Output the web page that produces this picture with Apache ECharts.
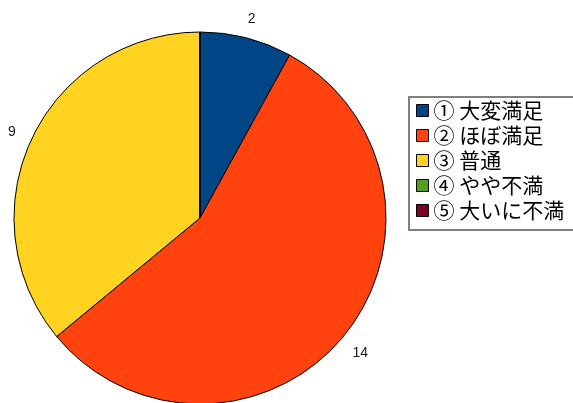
<!DOCTYPE html>
<html>
<head>
<meta charset="utf-8">
<script src="https://cdn.jsdelivr.net/npm/echarts@6/dist/echarts.min.js"></script>
<style>
  html, body { margin: 0; padding: 0; background: #ffffff; }
  #chart { width: 573px; height: 403px; }
</style>
</head>
<body>
<div id="chart"></div>
<script>
// Survey answers: satisfaction levels and number of responses
const categories = ['① 大変満足', '② ほぼ満足', '③ 普通', '④ やや不満', '⑤ 大いに不満'];
const counts = [2, 14, 9, 0, 0];
const palette = ['#004586', '#ff420e', '#ffd320', '#579d1c', '#7e0021'];

const sliceData = categories.map((name, i) => ({ name: name, value: counts[i] }));

const chart = echarts.init(document.getElementById('chart'), null, { renderer: 'canvas' });

chart.setOption({
  animation: false,
  color: palette,
  // legend frame, running off the right edge of the canvas
  graphic: [
    {
      type: 'rect',
      shape: { x: 409, y: 97, width: 200, height: 133 },
      style: { fill: 'none', stroke: '#808080', lineWidth: 2 },
      silent: true,
      z: 10
    }
  ],
  legend: {
    orient: 'vertical',
    left: 410,
    top: 98,
    padding: [2, 0, 0, 6],
    itemWidth: 12,
    itemHeight: 12,
    itemGap: 4,
    icon: 'rect',
    selectedMode: false,
    data: categories,
    itemStyle: { borderColor: '#000000', borderWidth: 1 },
    textStyle: {
      fontFamily: '"Noto Sans CJK JP", sans-serif',
      fontSize: 21,
      lineHeight: 21,
      color: '#000000'
    }
  },
  series: [
    {
      // the pie itself
      type: 'pie',
      center: [200, 218],
      radius: 186,
      startAngle: 90,
      clockwise: true,
      minAngle: 0,
      avoidLabelOverlap: false,
      silent: true,
      label: { show: false },
      labelLine: { show: false },
      itemStyle: { borderColor: '#000000', borderWidth: 1 },
      data: sliceData
    },
    {
      // transparent ring that carries the value labels just outside the pie
      type: 'pie',
      center: [200, 218],
      radius: [0, 410],
      startAngle: 90,
      clockwise: true,
      minAngle: 0,
      avoidLabelOverlap: false,
      silent: true,
      itemStyle: { color: 'rgba(0,0,0,0)', borderWidth: 0 },
      label: {
        show: true,
        position: 'inside',
        offset: [0, 3],
        formatter: p => (p.value > 0 ? String(p.value) : ''),
        fontFamily: '"Liberation Sans", Arial, sans-serif',
        fontSize: 14,
        color: '#1a1a1a'
      },
      labelLine: { show: false },
      data: sliceData
    }
  ]
});
</script>
</body>
</html>
